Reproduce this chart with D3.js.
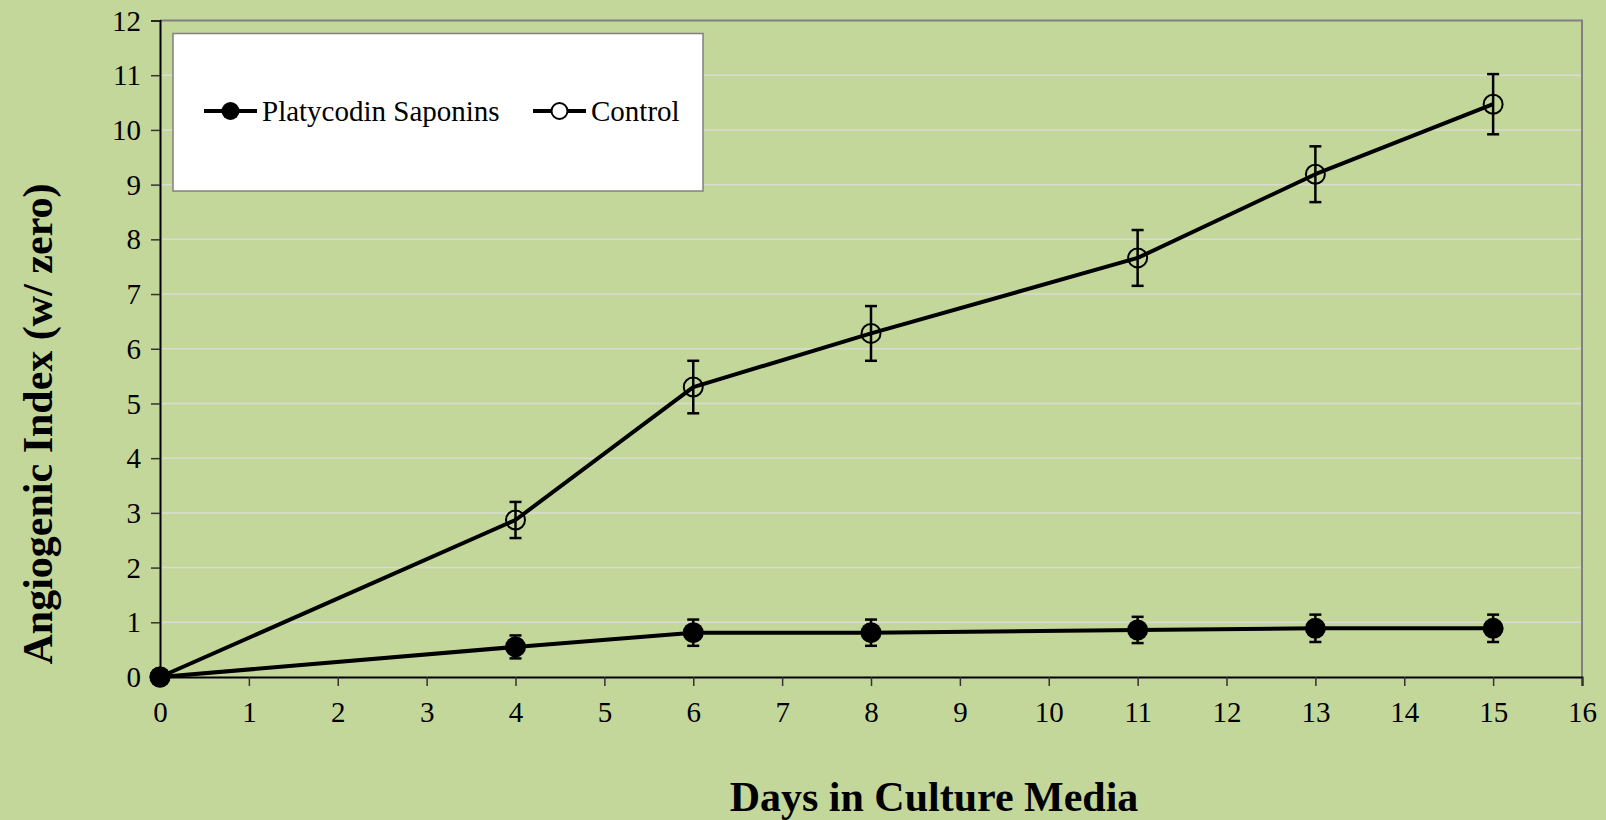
<!DOCTYPE html>
<html>
<head>
<meta charset="utf-8">
<script src="https://cdn.jsdelivr.net/npm/d3@7"></script>
<style>
  html, body { margin: 0; padding: 0; background: #c4d79b; }
  svg { display: block; font-family: 'Liberation Serif', 'Times New Roman', serif; }
  text { font-family: 'Liberation Serif', 'Times New Roman', serif; }
</style>
</head>
<body>
<svg id="chart" width="1606" height="820"></svg>
<script>
// Days on the x axis
const days = [0, 4, 6, 8, 11, 13, 15];
// Angiogenic index per series, with standard-error half widths
const saponinValues = [0, 0.55, 0.81, 0.81, 0.86, 0.89, 0.89];
const saponinErrors = [0, 0.21, 0.24, 0.24, 0.24, 0.25, 0.25];
const controlValues = [0, 2.87, 5.30, 6.28, 7.66, 9.19, 10.47];
const controlErrors = [0, 0.33, 0.48, 0.50, 0.51, 0.51, 0.55];
const seriesNames = ["Platycodin Saponins", "Control"];
const xTicks = d3.range(0, 17);
const yTicks = d3.range(0, 13);

const svg = d3.select("#chart");
const font = "'Liberation Serif', 'Times New Roman', serif";

const x = d3.scaleLinear().domain([0, 16]).range([160, 1582]);
const y = d3.scaleLinear().domain([0, 12]).range([677, 20.5]);

// chart background
svg.append("rect").attr("width", 1606).attr("height", 820).attr("fill", "#c4d79b");

// horizontal gridlines
svg.append("g").selectAll("line").data(yTicks.filter(d => d > 0 && d < 12)).join("line")
  .attr("x1", x(0)).attr("x2", x(16))
  .attr("y1", d => y(d)).attr("y2", d => y(d))
  .attr("stroke", "#dadcd2").attr("stroke-width", 1.5);

// top and right border of plot area
svg.append("path")
  .attr("d", `M${x(0)},${y(12)}H${x(16)}V${y(0)}`)
  .attr("fill", "none").attr("stroke", "#808080").attr("stroke-width", 2);

// axes
const xAxis = d3.axisBottom(x).tickValues(xTicks).tickSize(9).tickPadding(8).tickFormat(d3.format("d"));
const yAxis = d3.axisLeft(y).tickValues(yTicks).tickSize(9).tickPadding(10).tickFormat(d3.format("d"));

const gx = svg.append("g").attr("transform", `translate(0,${y(0)})`).call(xAxis);
const gy = svg.append("g").attr("transform", `translate(${x(0)},0)`).call(yAxis);

[gx, gy].forEach(g => {
  g.attr("font-family", font);
  g.select(".domain").attr("stroke", "#000").attr("stroke-width", 2);
  g.selectAll(".tick line").attr("stroke", "#333").attr("stroke-width", 1.5);
  g.selectAll(".tick text")
    .attr("font-family", font).attr("font-size", 29).attr("fill", "#000");
});
gx.selectAll(".tick text").attr("dy", "0.95em");
gy.selectAll(".tick text").attr("dy", "0.33em").attr("x", -19);

// axis titles
svg.append("text")
  .attr("x", 934).attr("y", 811)
  .attr("text-anchor", "middle")
  .attr("font-family", font).attr("font-weight", "bold").attr("font-size", 42)
  .text("Days in Culture Media");

svg.append("text")
  .attr("transform", "translate(52,424) rotate(-90)")
  .attr("text-anchor", "middle")
  .attr("font-family", font).attr("font-weight", "bold").attr("font-size", 42)
  .text("Angiogenic Index (w/ zero)");

// series drawing
const series = [
  { name: seriesNames[0], values: saponinValues, errors: saponinErrors, filled: true },
  { name: seriesNames[1], values: controlValues, errors: controlErrors, filled: false }
];

const line = d3.line().x(d => x(d[0])).y(d => y(d[1]));

series.forEach(s => {
  const pts = days.map((d, i) => [d, s.values[i], s.errors[i]]);
  const g = svg.append("g");
  g.append("path").datum(pts).attr("d", line)
    .attr("fill", "none").attr("stroke", "#000").attr("stroke-width", 4)
    .attr("stroke-linejoin", "round");

  g.selectAll("circle").data(pts).join("circle")
    .attr("cx", d => x(d[0])).attr("cy", d => y(d[1]))
    .attr("r", s.filled ? 10.5 : 9.5)
    .attr("fill", s.filled ? "#000" : "none")
    .attr("stroke", "#000").attr("stroke-width", s.filled ? 0 : 2);

  const eb = g.selectAll("g.err").data(pts.filter(d => d[2] > 0)).join("g").attr("class", "err");
  eb.append("line")
    .attr("x1", d => x(d[0])).attr("x2", d => x(d[0]))
    .attr("y1", d => y(d[1] + d[2])).attr("y2", d => y(d[1] - d[2]))
    .attr("stroke", "#000").attr("stroke-width", 2.5);
  [1, -1].forEach(sign => {
    eb.append("line")
      .attr("x1", d => x(d[0]) - 6).attr("x2", d => x(d[0]) + 6)
      .attr("y1", d => y(d[1] + sign * d[2])).attr("y2", d => y(d[1] + sign * d[2]))
      .attr("stroke", "#000").attr("stroke-width", 2.5);
  });
});

// legend
const legend = svg.append("g").attr("font-family", font);
legend.append("rect")
  .attr("x", 173).attr("y", 33.5).attr("width", 530).attr("height", 157.5)
  .attr("fill", "#fff").attr("stroke", "#808080").attr("stroke-width", 1.5);

const legendItems = [
  { name: seriesNames[0], filled: true, x0: 204 },
  { name: seriesNames[1], filled: false, x0: 533 }
];
legendItems.forEach(it => {
  const ly = 111;
  legend.append("line")
    .attr("x1", it.x0).attr("x2", it.x0 + 53).attr("y1", ly).attr("y2", ly)
    .attr("stroke", "#000").attr("stroke-width", 4);
  legend.append("circle")
    .attr("cx", it.x0 + 26.5).attr("cy", ly).attr("r", it.filled ? 9 : 8)
    .attr("fill", it.filled ? "#000" : "#fff")
    .attr("stroke", "#000").attr("stroke-width", it.filled ? 0 : 2);
  legend.append("text")
    .attr("x", it.x0 + 58).attr("y", ly + 10)
    .attr("font-family", font).attr("font-size", 29)
    .text(it.name);
});
</script>
</body>
</html>
